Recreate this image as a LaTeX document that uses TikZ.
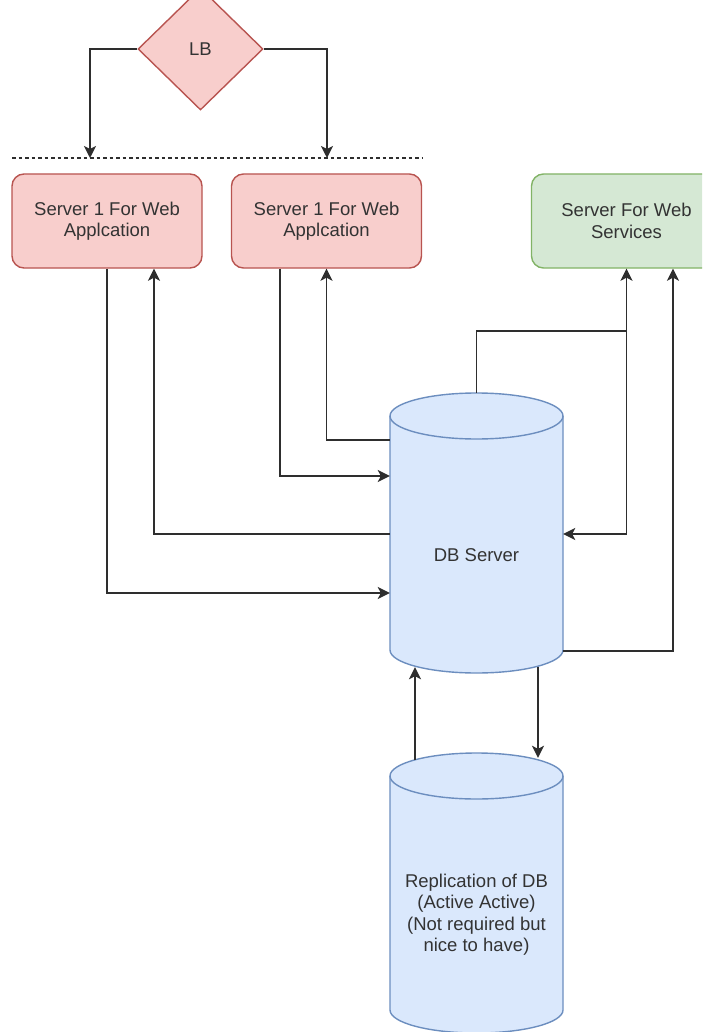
\documentclass[tikz,border=0pt]{standalone}
\usepackage{fontspec}
\setmainfont{Liberation Sans}
\usetikzlibrary{shapes.geometric,arrows.meta,calc}

\definecolor{redfill}{HTML}{F8CECC}
\definecolor{redline}{HTML}{B85450}
\definecolor{greenfill}{HTML}{D5E8D4}
\definecolor{greenline}{HTML}{82B366}
\definecolor{bluefill}{HTML}{DAE8FC}
\definecolor{blueline}{HTML}{6C8EBF}
\definecolor{ink}{HTML}{2E2E2E}
\definecolor{textcol}{HTML}{333333}

% cylinder outline: #1 centre x, #2 x radius, #3 top y, #4 bottom y
\newcommand\drawcyl[4]{%
  \filldraw[cylbody] (#1-#2,#3+23) -- (#1-#2,#4-23)
    arc[start angle=180,end angle=0,x radius=#2,y radius=23]
    -- (#1+#2,#3+23)
    arc[start angle=0,end angle=-180,x radius=#2,y radius=23] -- cycle;
  \draw[cylbody,fill=none] (#1-#2,#3+23)
    arc[start angle=180,end angle=0,x radius=#2,y radius=23];
}

\begin{document}
\begin{tikzpicture}[x=1pt,y=-1pt,
  font=\fontsize{18.5}{21.5}\selectfont,
  every node/.style={text=textcol},
  server/.style={rectangle,rounded corners=12pt,minimum width=190pt,
    minimum height=94pt,inner sep=0pt,line width=1.4pt,align=center},
  redbox/.style={server,draw=redline,fill=redfill},
  greenbox/.style={server,draw=greenline,fill=greenfill},
  cylbody/.style={draw=blueline,fill=bluefill,line width=1.4pt},
  cylarea/.style={rectangle,inner sep=0pt,minimum width=173pt,minimum height=280pt},
  link/.style={draw=ink,line width=1.9pt,
    -{Stealth[length=12pt,width=12pt,inset=3pt]}},
  divider/.style={draw=ink,line width=1.5pt,dash pattern=on 3.5pt off 3pt},
]
\clip (0,0) rectangle (702,1032);

% load balancer
\node[diamond,draw=redline,fill=redfill,line width=1.4pt,inner sep=0pt,
  minimum width=125pt,minimum height=122pt] (lb) at (200.5,49) {LB};

% dashed divider and the points where the balancer arrows meet it
\coordinate (dl) at (12,158);
\coordinate (dr) at (422,158);
\draw[divider] (dl) -- (dr);
\coordinate (t1) at (90,158);
\coordinate (t2) at (327,158);

% servers
\node[redbox] (s1) at (107,221) {Server 1 For Web\\Applcation};
\node[redbox] (s2) at (326.5,221) {Server 1 For Web\\Applcation};
\node[greenbox] (ws) at (626.5,221) {Server For Web\\Services};

% database cylinders
\drawcyl{476.5}{86.5}{393}{673}
\node[cylarea] (db) at (476.5,533) {};
\node (dbtext) at (476.5,555) {DB Server};

\drawcyl{476.5}{86.5}{753}{1033}
\node[cylarea] (rep) at (476.5,893) {};
\node[align=center] (reptext) at (476.5,914.5)
  {Replication of DB\\(Active Active)\\(Not required but\\nice to have)};

% balancer to servers
\draw[link] (lb.west) -| (t1);
\draw[link] (lb.east) -| (t2);

% web application servers <-> DB
\draw[link] (s1.south) |- (db.west |- 0,593);
\draw[link] (db.west |- 0,534) -| ([xshift=47pt]s1.south);
\draw[link] ([xshift=-46.5pt]s2.south) |- (db.west |- 0,476);
\draw[link] (db.west |- 0,440) -| (s2.south);

% web services server <-> DB
\draw[link] (db.north) -- (db.north |- 0,331) -| (ws.south);
\draw[link] (ws.south) |- (db.east |- 0,534);
\draw[link] (db.east |- 0,651) -| ([xshift=46.5pt]ws.south);

% replication
\draw[link] ($(rep.north)+(-61.5,7)$) -- ($(db.south)+(-61.5,-6)$);
\draw[link] ($(db.south)+(61.5,-6)$) -- ($(rep.north)+(61.5,5)$);
\end{tikzpicture}
\end{document}
